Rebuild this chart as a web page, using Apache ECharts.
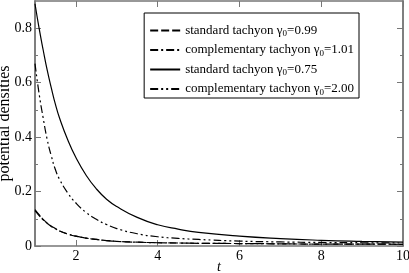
<!DOCTYPE html>
<html>
<head>
<meta charset="utf-8">
<script src="https://cdn.jsdelivr.net/npm/echarts@6/dist/echarts.min.js"></script>
<style>html,body{margin:0;padding:0;background:#fff}#c{width:409px;height:273px}</style>
</head>
<body>
<div id="c"></div>
<script>
var tValues = [1, 1.1, 1.2, 1.3, 1.4, 1.5, 1.6, 1.8, 2, 2.25, 2.5, 2.75, 3, 3.5, 4, 4.5, 5, 6, 7, 8, 9, 10];
var std099 = [0.134, 0.115, 0.098, 0.084, 0.073, 0.064, 0.055, 0.044, 0.036, 0.029, 0.024, 0.020, 0.017, 0.014, 0.012, 0.011, 0.010, 0.009, 0.008, 0.007, 0.007, 0.006];
var comp101 = [0.130, 0.112, 0.096, 0.083, 0.072, 0.063, 0.055, 0.044, 0.036, 0.029, 0.024, 0.020, 0.017, 0.014, 0.012, 0.011, 0.010, 0.009, 0.008, 0.007, 0.007, 0.006];
var std075 = [0.89, 0.80, 0.72, 0.645, 0.58, 0.52, 0.47, 0.39, 0.325, 0.26, 0.21, 0.172, 0.145, 0.105, 0.078, 0.062, 0.050, 0.036, 0.027, 0.021, 0.017, 0.014];
var comp200 = [0.67, 0.56, 0.47, 0.39, 0.33, 0.28, 0.245, 0.195, 0.158, 0.123, 0.098, 0.079, 0.064, 0.045, 0.034, 0.028, 0.024, 0.018, 0.015, 0.013, 0.012, 0.011];
var xTicks = [2, 4, 6, 8, 10];
var yTicks = [0, 0.2, 0.4, 0.6, 0.8];
var yMinorTicks = [0.1, 0.3, 0.5, 0.7];
var seriesNames = ['standard tachyon', 'complementary tachyon', 'standard tachyon ', 'complementary tachyon  '];
var gammaLabels = ['0.99', '1.01', '0.75', '2.00'];

function pairs(ys) { return tValues.map(function (t, i) { return [t, ys[i]]; }); }

var FONT = 'Liberation Serif';
var AX = '#777';
var chart = echarts.init(document.getElementById('c'), null, {renderer: 'canvas'});

function xAxisDef(pos, showLabel) {
  return {
    type: 'value', position: pos, min: 1, max: 10, interval: 1,
    name: showLabel ? 't' : '', nameLocation: 'middle', nameGap: 14, nameMoveOverlap: false,
    nameTextStyle: {fontFamily: FONT, fontStyle: 'italic', fontSize: 14, color: '#000'},
    axisLine: {show: true, onZero: false, lineStyle: {color: AX, width: 1.5}},
    axisTick: {show: true, inside: true, length: 6, customValues: xTicks, lineStyle: {color: AX, width: 1}},
    axisLabel: {show: showLabel, customValues: xTicks, margin: 3, fontFamily: FONT, fontSize: 14, color: '#000'},
    splitLine: {show: false}
  };
}
function yAxisDef(pos, showLabel, ticks, len) {
  return {
    type: 'value', position: pos, min: 0, max: 0.9, interval: 0.1,
    name: showLabel ? 'potential densities' : '', nameLocation: 'middle', nameGap: 22, nameRotate: 90, nameMoveOverlap: false,
    nameTextStyle: {fontFamily: FONT, fontSize: 16, color: '#000'},
    axisLine: {show: true, onZero: false, lineStyle: {color: AX, width: 1.5}},
    axisTick: {show: true, inside: true, length: len, customValues: ticks, lineStyle: {color: AX, width: 1}},
    axisLabel: {show: showLabel, customValues: yTicks, margin: 3, fontFamily: FONT, fontSize: 14, color: '#000'},
    splitLine: {show: false}
  };
}

var dashTypes = [[8, 3], [8, 3, 2, 3], 'solid', [8, 3, 2, 3, 2, 3]];
var dataSets = [std099, comp101, std075, comp200];

var series = dataSets.map(function (d, i) {
  return {
    name: seriesNames[i], type: 'line', data: pairs(d), smooth: true,
    showSymbol: false, symbol: 'none', xAxisIndex: 0, yAxisIndex: 0,
    lineStyle: {color: '#000', width: 1.2, type: dashTypes[i]},
    itemStyle: {color: '#000'}, z: 3
  };
});

chart.setOption({
  animation: false,
  backgroundColor: '#fff',
  grid: {left: 35, right: 6, top: 1, bottom: 27, containLabel: false, outerBoundsMode: 'none'},
  xAxis: [xAxisDef('bottom', true), xAxisDef('top', false)],
  yAxis: [
    yAxisDef('left', true, yTicks, 6),
    yAxisDef('right', false, yTicks, 6),
    yAxisDef('left', false, yMinorTicks, 3),
    yAxisDef('right', false, yMinorTicks, 3)
  ],
  legend: {
    orient: 'vertical', right: 50, top: 13,
    itemWidth: 30, itemHeight: 12, itemGap: 5,
    padding: [11, 5, 1, 5],
    borderColor: '#000', borderWidth: 1, backgroundColor: '#fff',
    itemStyle: {opacity: 0},
    data: seriesNames,
    formatter: function (name) {
      var i = seriesNames.indexOf(name);
      return '{a|' + name.trim() + ' \u03b3}{s|0}{a|=' + gammaLabels[i] + '}';
    },
    textStyle: {
      fontFamily: FONT, fontSize: 13, color: '#000',
      rich: {
        a: {fontFamily: FONT, fontSize: 13, color: '#000'},
        s: {fontFamily: FONT, fontSize: 9, color: '#000', padding: [7, 0, 0, 0]}
      }
    }
  },
  series: series
});
</script>
</body>
</html>
